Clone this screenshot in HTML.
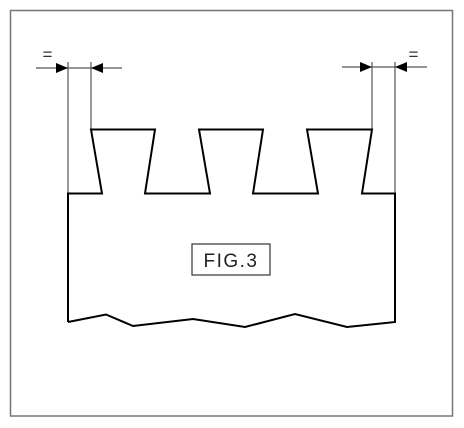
<!DOCTYPE html>
<html><head><meta charset="utf-8"><style>html,body{margin:0;padding:0;background:#fff}svg{display:block}</style></head>
<body>
<svg width="464" height="428" viewBox="0 0 464 428" xmlns="http://www.w3.org/2000/svg">
<rect x="10.5" y="10.5" width="442" height="405.5" fill="none" stroke="#777" stroke-width="1.5"/>
<g stroke="#555" stroke-width="1.2" fill="none">
<line x1="68" y1="62" x2="68" y2="194"/>
<line x1="91" y1="62" x2="91" y2="129"/>
<line x1="372" y1="62" x2="372" y2="129"/>
<line x1="395" y1="62" x2="395" y2="194"/>
<line x1="36" y1="68" x2="122" y2="68"/>
<line x1="342" y1="67" x2="427" y2="67"/>
</g>
<g fill="#000">
<polygon points="68,68 56,63 56,73"/>
<polygon points="91,68 103,63 103,73"/>
<polygon points="372,67 360,62 360,72"/>
<polygon points="395,67 407,62 407,72"/>
</g>
<text x="47.5" y="60" font-family="Liberation Sans, sans-serif" font-size="17" text-anchor="middle" fill="#333">=</text>
<text x="413.5" y="60" font-family="Liberation Sans, sans-serif" font-size="17" text-anchor="middle" fill="#333">=</text>
<polyline fill="none" stroke="#000" stroke-width="2" stroke-linejoin="miter"
points="68,322 68,193.5 102,193.5 91,129.5 155,129.5 145,193.5 210,193.5 199,129.5 263,129.5 253,193.5 318,193.5 307,129.5 372,129.5 362,193.5 395,193.5 395,322 347,327 295,314 245,327 193,319 133,326 106,314.5 68,322"/>
<rect x="192" y="244" width="78" height="31" fill="none" stroke="#333" stroke-width="1.2"/>
<text x="231" y="267" font-family="Liberation Sans, sans-serif" font-size="19" text-anchor="middle" fill="#222" letter-spacing="1.5">FIG.3</text>
</svg>
</body></html>
